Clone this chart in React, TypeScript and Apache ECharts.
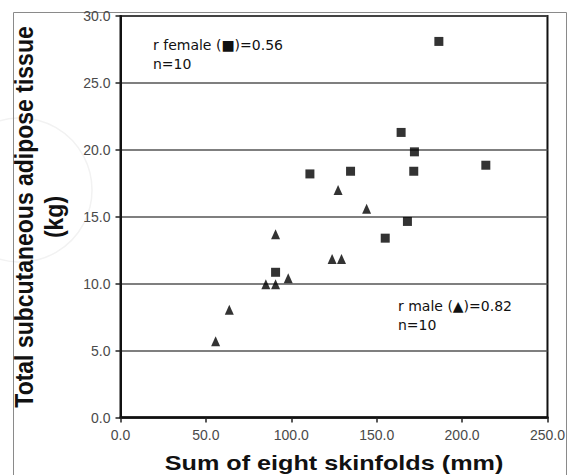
import React, { useEffect, useRef } from "react";
import * as echarts from "echarts";

// Female (squares)
const femaleX = [186.4, 164.3, 172.1, 110.9, 134.7, 171.7, 213.9, 168.0, 155.0, 90.8];
const femaleY = [28.1, 21.3, 19.85, 18.2, 18.4, 18.4, 18.85, 14.65, 13.4, 10.85];
// Male (triangles)
const maleX = [127.4, 144.1, 123.9, 129.4, 98.2, 90.8, 85.1, 90.8, 63.7, 55.7];
const maleY = [17.0, 15.6, 11.85, 11.85, 10.4, 13.7, 9.95, 9.95, 8.05, 5.7];

const xAxisTitle = "Sum of eight skinfolds (mm)";
const yAxisTitle1 = "Total subcutaneous adipose tissue";
const yAxisTitle2 = "(kg)";
const femaleNote = ["r female (\u25A0)=0.56", "n=10"];
const maleNote = ["r male (\u25B2)=0.82", "n=10"];

const ARIAL = "'Liberation Sans', Arial, sans-serif";
const NOTE_FONT = "'DejaVu Sans', Verdana, sans-serif";

export default function App() {
  const ref = useRef<HTMLDivElement>(null);
  useEffect(() => {
    if (!ref.current) return;
    const chart = echarts.init(ref.current, undefined, { renderer: "svg" });
    const female = femaleX.map((x, i) => [x, femaleY[i]]);
    const male = maleX.map((x, i) => [x, maleY[i]]);
    chart.setOption({
      animation: false,
      backgroundColor: "#fff",
      grid: {
        left: 120.5,
        right: 20,
        top: 16,
        bottom: 57.5,
        containLabel: false,
        show: true,
        borderColor: "#111",
        borderWidth: 2,
        backgroundColor: "transparent",
      },
      xAxis: {
        type: "value",
        min: 0,
        max: 250,
        interval: 50,
        axisLine: { show: true, onZero: false, lineStyle: { color: "#111", width: 2.5 } },
        axisTick: { show: true, inside: false, length: 5, lineStyle: { color: "#222", width: 1.5 } },
        axisLabel: {
          margin: 10,
          color: "#4a4a4a",
          fontSize: 14,
          fontFamily: ARIAL,
          formatter: (v: number) => v.toFixed(1),
        },
        splitLine: { show: false },
      },
      yAxis: {
        type: "value",
        min: 0,
        max: 30,
        interval: 5,
        axisLine: { show: true, onZero: false, lineStyle: { color: "#111", width: 2 } },
        axisTick: { show: true, inside: false, length: 5, lineStyle: { color: "#222", width: 1.5 } },
        axisLabel: {
          margin: 10,
          color: "#4a4a4a",
          fontSize: 14,
          fontFamily: ARIAL,
          formatter: (v: number) => v.toFixed(1),
        },
        splitLine: { show: true, lineStyle: { color: "#555", width: 1.5 } },
      },
      series: [
        {
          name: "female",
          type: "scatter",
          data: female,
          symbol: "rect",
          symbolSize: 9,
          itemStyle: { color: "#000" },
          z: 5,
        },
        {
          name: "male",
          type: "scatter",
          data: male,
          symbol: "triangle",
          symbolSize: [9, 10],
          itemStyle: { color: "#000" },
          z: 5,
        },
      ],
      graphic: [
        {
          type: "rect",
          shape: { x: 13.5, y: 12.5, width: 553, height: 470 },
          style: { fill: "none", stroke: "#8a8a8a", lineWidth: 1 },
          z: -10,
          silent: true,
        },
        {
          type: "circle",
          shape: { cx: 20, cy: 190, r: 72 },
          style: { fill: "none", stroke: "#f2f2f2", lineWidth: 1.5 },
          z: -20,
          silent: true,
        },
        {
          type: "text",
          x: 24,
          y: 217,
          rotation: Math.PI / 2,
          scaleY: 1.15,
          style: {
            text: yAxisTitle1,
            fontSize: 23,
            fontWeight: "bold",
            fontFamily: ARIAL,
            fill: "#111",
            align: "center",
            verticalAlign: "middle",
          },
        },
        {
          type: "text",
          x: 54,
          y: 217,
          rotation: Math.PI / 2,
          scaleY: 1.15,
          style: {
            text: yAxisTitle2,
            fontSize: 23,
            fontWeight: "bold",
            fontFamily: ARIAL,
            fill: "#111",
            align: "center",
            verticalAlign: "middle",
          },
        },
        {
          type: "text",
          x: 334,
          y: 463,
          scaleX: 1.26,
          style: {
            text: xAxisTitle,
            fontSize: 20,
            fontWeight: "bold",
            fontFamily: ARIAL,
            fill: "#111",
            align: "center",
            verticalAlign: "middle",
          },
        },
        {
          type: "text",
          x: 153,
          y: 44.5,
          style: {
            text: femaleNote[0],
            fontSize: 14,
            fontFamily: NOTE_FONT,
            fill: "#111",
            align: "left",
            verticalAlign: "middle",
          },
        },
        {
          type: "text",
          x: 153,
          y: 63.5,
          style: {
            text: femaleNote[1],
            fontSize: 14,
            fontFamily: NOTE_FONT,
            fill: "#111",
            align: "left",
            verticalAlign: "middle",
          },
        },
        {
          type: "text",
          x: 398,
          y: 306,
          style: {
            text: maleNote[0],
            fontSize: 14,
            fontFamily: NOTE_FONT,
            fill: "#111",
            align: "left",
            verticalAlign: "middle",
          },
        },
        {
          type: "text",
          x: 398,
          y: 325,
          style: {
            text: maleNote[1],
            fontSize: 14,
            fontFamily: NOTE_FONT,
            fill: "#111",
            align: "left",
            verticalAlign: "middle",
          },
        },
      ],
    });
    return () => chart.dispose();
  }, []);
  return (
    <div
      ref={ref}
      style={{ position: "fixed", left: 0, top: 0, width: 568, height: 475, background: "#fff" }}
    />
  );
}
